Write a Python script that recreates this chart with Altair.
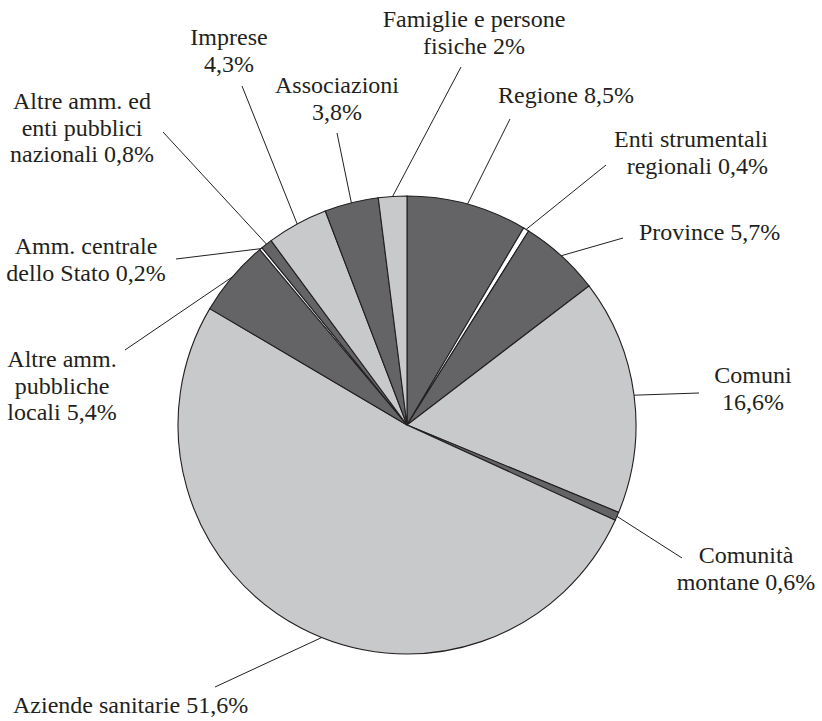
import math
import altair as alt
import pandas as pd

# ---- data ----
categories = [
    "Regione", "Enti strumentali regionali", "Province", "Comuni",
    "Comunità montane", "Aziende sanitarie", "Altre amm. pubbliche locali",
    "Amm. centrale dello Stato", "Altre amm. ed enti pubblici nazionali",
    "Imprese", "Associazioni", "Famiglie e persone fisiche",
]
shares = [8.5, 0.4, 5.7, 16.6, 0.6, 51.6, 5.4, 0.2, 0.8, 4.3, 3.8, 2.0]
label_lines = [
    ["Regione 8,5%"],
    ["Enti strumentali", "regionali 0,4%"],
    ["Province 5,7%"],
    ["Comuni", "16,6%"],
    ["Comunità", "montane 0,6%"],
    ["Aziende sanitarie 51,6%"],
    ["Altre amm.", "pubbliche", "locali 5,4%"],
    ["Amm. centrale", "dello Stato 0,2%"],
    ["Altre amm. ed", "enti pubblici", "nazionali 0,8%"],
    ["Imprese", "4,3%"],
    ["Associazioni", "3,8%"],
    ["Famiglie e persone", "fisiche 2%"],
]
tones = ["dark", "white", "dark", "light", "dark", "light",
         "dark", "white", "dark", "light", "dark", "light"]

# ---- layout / style ----
TONE_COLORS = {"dark": "#646466", "light": "#c8c9cb", "white": "#ffffff"}
INK = "#231f20"
W, H = 822, 721
CX, CY, R = 407, 425, 229
LINE_H = 26.5
FONT = "Liberation Serif"
FONT_SIZE = 24

label_anchor_x = [566, 768, 639, 753, 746, 13, 62, 86, 82, 229, 337, 474]
label_first_baseline = [103, 147, 240, 383, 563, 713, 367, 254, 109, 45, 93, 27]
label_align = ["center", "right", "left", "center", "center", "left",
               "center", "center", "center", "center", "center", "center"]
leader_end_x = [510, 606, 623, 699, 682, 215, 125, 176, 163, 242, 337, 461]
leader_end_y = [119, 165, 238, 393, 558, 687, 350, 259, 132, 86, 133, 67]
leader_angle_shift = [0, 0, 0, 0, 0, -5.7, 0, 0, 0, 0, 0, 0]

# ---- tables ----
pie_df = pd.DataFrame({
    "categoria": categories,
    "share": shares,
    "idx": list(range(len(categories))),
    "fill": [TONE_COLORS[t] for t in tones],
})

total = sum(shares)
rules = []
cum = 0.0
for i, s in enumerate(shares):
    mid = (cum + s / 2) / total * 360 + leader_angle_shift[i]
    cum += s
    a = math.radians(mid)
    rules.append({
        "x": CX + R * math.sin(a), "y": CY - R * math.cos(a),
        "x2": leader_end_x[i], "y2": leader_end_y[i],
    })
rule_df = pd.DataFrame(rules)

text_rows = []
for i, lines in enumerate(label_lines):
    for j, line in enumerate(lines):
        text_rows.append({
            "label": line, "px": label_anchor_x[i],
            "py": label_first_baseline[i] + j * LINE_H,
            "al": label_align[i],
        })
text_df = pd.DataFrame(text_rows)

xs = alt.Scale(domain=[0, W], nice=False, zero=False)
ys = alt.Scale(domain=[0, H], nice=False, zero=False, reverse=True)

pie = alt.Chart(pie_df).mark_arc(
    outerRadius=R, stroke=INK, strokeWidth=1.1
).encode(
    theta=alt.Theta("share:Q", stack=True),
    order=alt.Order("idx:Q"),
    color=alt.Color("fill:N", scale=None),
    x=alt.value(CX),
    y=alt.value(CY),
)

leaders = alt.Chart(rule_df).mark_rule(color=INK, strokeWidth=1).encode(
    x=alt.X("x:Q", scale=xs, axis=None),
    y=alt.Y("y:Q", scale=ys, axis=None),
    x2="x2:Q",
    y2="y2:Q",
)

text_layers = []
for al in ["center", "left", "right"]:
    sub = text_df[text_df["al"] == al]
    if len(sub) == 0:
        continue
    text_layers.append(
        alt.Chart(sub).mark_text(
            align=al, baseline="alphabetic", font=FONT,
            fontSize=FONT_SIZE, color=INK
        ).encode(
            x=alt.X("px:Q", scale=xs, axis=None),
            y=alt.Y("py:Q", scale=ys, axis=None),
            text="label:N",
        )
    )

chart = alt.layer(pie, leaders, *text_layers).properties(
    width=W, height=H, padding=0, autosize="none"
).configure_view(stroke=None)

chart.save("out.html", embed_options={"renderer": "svg", "actions": False})
